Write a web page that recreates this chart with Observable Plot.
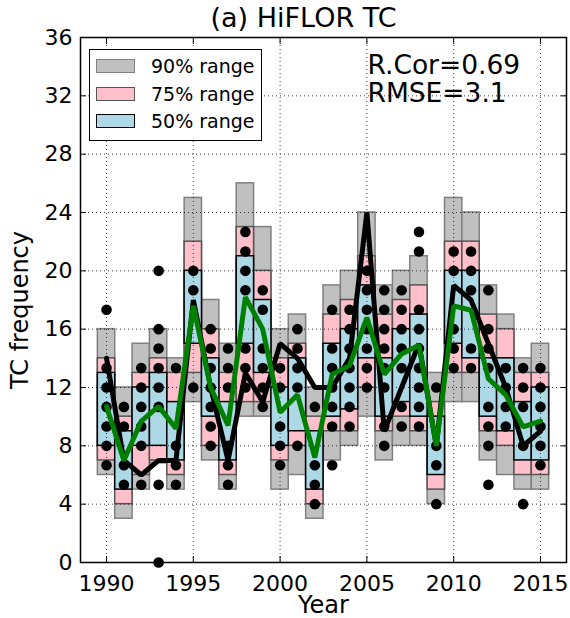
<!DOCTYPE html>
<html><head><meta charset="utf-8">
<script src="https://cdn.jsdelivr.net/npm/d3@7"></script>
<script src="https://cdn.jsdelivr.net/npm/@observablehq/plot@0.6"></script>
<style>
body{margin:0;background:#fff;font-family:"DejaVu Sans",sans-serif;}
#wrap{position:relative;width:570px;height:618px;}
#legend{position:absolute;left:89px;top:49px;width:173px;height:92px;border:1.5px solid #000;background:#fff;box-sizing:border-box;font-size:19px;}
.item{position:absolute;left:6px;height:16px;}
.sw{position:absolute;left:0;top:0;width:39px;height:14px;box-sizing:border-box;border:1.5px solid #000;}
.lb{position:absolute;left:55px;top:-4px;white-space:nowrap;line-height:22px;}
</style></head>
<body><div id="wrap"></div>
<script>
const years = [1990,1991,1992,1993,1994,1995,1996,1997,1998,1999,2000,2001,2002,2003,2004,2005,2006,2007,2008,2009,2010,2011,2012,2013,2014,2015];
const p05  = [6,3,5,6.8,5,11,7,5,10,10,5,6,3,7,8,10,7,8,8,4,11,11,7,6,5,5];
const p95  = [16,12,15,16,14,25,18,15,26,23,16,17,12,19,20,24,19,20,21,13,25,24,19,17,14,15];
const p125 = [7,4,6,7,6,13,8,6,11,11,7,8,4,9,9,12,9,10,9,5,13,13,9,8,6,6];
const p875 = [14,10,13,14,13,22,16,13,23,20,14,15,10,17,18,21,17,18,19,11,22,22,17,16,13,13];
const p25  = [8,5,8,8,7,15,10,7,15,13,8,9,5,10,10.5,14,10,11,10,6,15,14,10,9,7,7];
const p75  = [13,9,12,13,11,20,14,11,21,18,12,14,9,15,16,19,14,16,17,10,20,20,14,14,11,12];
const observed = [14,7,6,7,7,18,12,7,13,11,15,14,12,12,14,24,9,12,15,8,19,18,15,12,8,9];
const ensMean  = [10.7,7.0,9.7,10.7,9.2,17.6,12.0,9.4,18.2,16.0,10.3,11.5,7.2,12.9,13.5,16.8,12.9,14.3,14.9,8.0,17.6,17.3,12.6,11.5,9.3,9.7];
const members = [
  [17.33,13.33,12,10.67,9.33,8,6.67],
  [10.67,9.33,6.67,5.33],
  [13.33,12,10.67,9.33,8,5.33],
  [20,16,14.67,13.33,12,10.67,5.33,0],
  [13.33,8,6.67,5.33],
  [20,18.67,12],
  [16,14.67,13.33,12,10.67,9.33,8],
  [14.67,13.33,12,8,6.67,5.33],
  [22.67,21.33,20,18.67,14.67,13.33,12],
  [18.67,17.33,14.67,13.33,12,10.67],
  [13.33,12,9.33,8,6.67],
  [16,14.67,13.33,12,8],
  [10.67,6.67,5.33,4],
  [17.33,14.67,13.33,12,10.67,9.33,6.67],
  [17.33,16,14.67,13.33,12,10.67,9.33],
  [20,18.67,17.33,16,14.67,13.33,12],
  [18.67,17.33,16,14.67,13.33,12,9.33,8],
  [18.67,17.33,16,14.67,13.33,10.67,9.33],
  [22.67,21.33,17.33,16,14.67,13.33,12,10.67,9.33],
  [12,8,6.67,4],
  [21.33,20,16,14.67,13.33],
  [21.33,20,18.67,14.67,13.33],
  [18.67,16,14.67,13.33,10.67,9.33,8,5.33],
  [13.33,12,10.67,9.33],
  [13.33,12,10.67,8,4],
  [13.33,12,10.67,9.33,8,6.67]
];
const xTicks = [1990,1995,2000,2005,2010,2015];
const yTicks = [0,4,8,12,16,20,24,28,32,36];
const title = "(a) HiFLOR TC";
const statLines = ["R.Cor=0.69","RMSE=3.1"];
const legendItems = [
  {label:"90% range", fill:"#c0c0c0", stroke:"#808080"},
  {label:"75% range", fill:"#ffc0cb", stroke:"#555555"},
  {label:"50% range", fill:"#add8e6", stroke:"#000000"}
];

const rows = years.map((y,i)=>({year:y,p05:p05[i],p95:p95[i],p125:p125[i],p875:p875[i],p25:p25[i],p75:p75[i],obs:observed[i],mean:ensMean[i]}));
const dotRows = years.flatMap((y,i)=>members[i].map(v=>({year:y,v})));
const half = 0.5;
const gridStyle = {stroke:"#000", strokeOpacity:0.75, strokeWidth:1, strokeDasharray:"1,3"};

const plot = Plot.plot({
  width:570, height:618,
  marginLeft:80, marginRight:4, marginTop:37, marginBottom:56,
  x:{domain:[1988.5,2016.5]},
  y:{domain:[0,36]},
  style:{fontFamily:"DejaVu Sans", fontSize:"22px", color:"#000", background:"#fff"},
  marks:[
    Plot.rect(rows,{x1:d=>d.year-half,x2:d=>d.year+half,y1:"p05",y2:"p95",fill:"#c0c0c0",stroke:"#808080",strokeWidth:1.5}),
    Plot.rect(rows,{x1:d=>d.year-half,x2:d=>d.year+half,y1:"p125",y2:"p875",fill:"#ffc0cb",stroke:"#555",strokeWidth:1.5}),
    Plot.rect(rows,{x1:d=>d.year-half,x2:d=>d.year+half,y1:"p25",y2:"p75",fill:"#add8e6",stroke:"#000",strokeWidth:1.5}),
    Plot.gridX(xTicks, gridStyle),
    Plot.gridY(yTicks, gridStyle),
    Plot.dot(dotRows,{x:"year",y:"v",r:5.3,fill:"#000",stroke:null}),
    Plot.line(rows,{x:"year",y:"obs",stroke:"#000",strokeWidth:5,strokeLinejoin:"miter"}),
    Plot.line(rows,{x:"year",y:"mean",stroke:"#008000",strokeWidth:5,strokeLinejoin:"miter"}),
    Plot.frame({stroke:"#000",strokeWidth:1.5}),
    Plot.axisX(xTicks,{anchor:"bottom",tickSize:-6,tickPadding:19,tickFormat:"d",label:null,fontSize:22}),
    Plot.axisX(xTicks,{anchor:"top",tickSize:-6,tickFormat:()=>"",label:null}),
    Plot.axisY(yTicks,{anchor:"left",tickSize:-6,tickPadding:14,label:null,fontSize:22}),
    Plot.axisY(yTicks,{anchor:"right",tickSize:-6,tickFormat:()=>"",label:null}),
    Plot.text([title],{frameAnchor:"top",lineAnchor:"middle",dx:-20,dy:-19,fontSize:27}),
    Plot.text(["Year"],{frameAnchor:"bottom",lineAnchor:"middle",dy:43,fontSize:24}),
    Plot.text(["TC frequency"],{frameAnchor:"left",textAnchor:"middle",lineAnchor:"middle",dx:-60,dy:10,rotate:-90,fontSize:24}),
    Plot.text([statLines[0]],{frameAnchor:"top-left",lineAnchor:"middle",dx:287,dy:28,textAnchor:"start",fontSize:26.5}),
    Plot.text([statLines[1]],{frameAnchor:"top-left",lineAnchor:"middle",dx:287,dy:56,textAnchor:"start",fontSize:26.5})
  ]
});
const wrap = document.getElementById("wrap");
wrap.appendChild(plot);
const lg = document.createElement("div");
lg.id = "legend";
legendItems.forEach((it,i)=>{
  const item = document.createElement("div");
  item.className = "item";
  item.style.top = (9 + i*27.5) + "px";
  const sw = document.createElement("div");
  sw.className = "sw"; sw.style.background = it.fill; sw.style.borderColor = it.stroke;
  const lb = document.createElement("div");
  lb.className = "lb"; lb.textContent = it.label;
  item.appendChild(sw); item.appendChild(lb);
  lg.appendChild(item);
});
wrap.appendChild(lg);
</script></body></html>
